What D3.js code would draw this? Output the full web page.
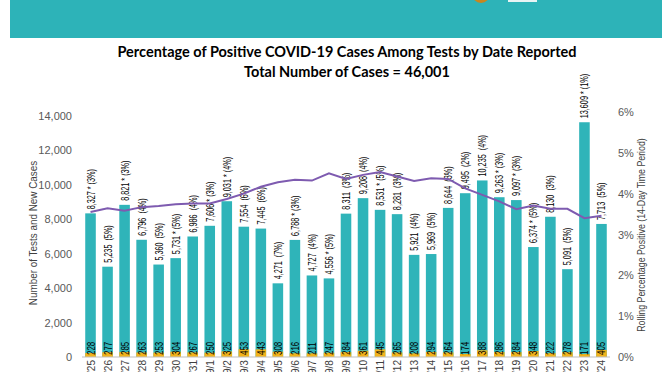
<!DOCTYPE html>
<html>
<head>
<meta charset="utf-8">
<script src="https://cdn.jsdelivr.net/npm/d3@7"></script>
<style>
  body { margin: 0; background: #fff; }
  svg { display: block; font-family: "Liberation Sans", Arial, sans-serif; }
</style>
</head>
<body>
<svg id="chart" width="672" height="372"></svg>
<script>
// data
var dates = ["8/25","8/26","8/27","8/28","8/29","8/30","8/31","9/1","9/2","9/3","9/4","9/5","9/6","9/7","9/8",
             "9/9","9/10","9/11","9/12","9/13","9/14","9/15","9/16","9/17","9/18","9/19","9/20","9/21","9/22","9/23","9/24"];
var tests = [8327,5235,8821,6796,5360,5731,6986,7606,9031,7554,7445,4271,6788,4727,4556,
             8311,9208,8531,8281,5921,5969,8644,9495,10235,9263,9097,6374,8130,5091,13609,7713];
var cases = [228,277,285,263,253,304,267,250,325,453,443,308,216,211,247,
             284,361,445,265,208,294,264,174,388,286,284,348,222,278,171,405];
var positive = [3,5,3,4,5,5,4,3,4,6,6,7,3,4,5,3,4,5,3,4,5,3,2,4,3,3,5,3,5,1,5];
var flagged = [1,0,1,0,0,1,0,1,1,0,0,0,1,0,1,0,0,1,0,0,0,0,0,0,1,1,1,0,0,1,0];
var rolling = [3.55,3.64,3.58,3.67,3.70,3.74,3.76,3.76,3.87,4.00,4.17,4.28,4.34,4.32,4.50,
               4.36,4.46,4.53,4.42,4.31,4.38,4.36,4.13,3.97,3.81,3.62,3.71,3.63,3.63,3.40,3.46];
var leftTicks = [0,2000,4000,6000,8000,10000,12000,14000];
var rightTicks = [0,0.01,0.02,0.03,0.04,0.05,0.06];

var svg = d3.select("#chart");
var teal = "#2FB4B9";

// header band
svg.append("rect").attr("x", 10).attr("y", 0).attr("width", 652).attr("height", 38).attr("fill", "#2DB3B8");
svg.append("circle").attr("cx", 481).attr("cy", -6).attr("r", 9).attr("fill", "#C8861E");
svg.append("rect").attr("x", 508).attr("y", -6).attr("width", 29).attr("height", 8).attr("fill", "#e8f4f4");

// titles
svg.append("text").attr("x", 347).attr("y", 57).attr("text-anchor", "middle")
   .style("font-family", "Lato").style("font-weight", "bold").style("font-size", "14.5px")
   .text("Percentage of Positive COVID-19 Cases Among Tests by Date Reported");
svg.append("text").attr("x", 347).attr("y", 77).attr("text-anchor", "middle")
   .style("font-family", "Lato").style("font-weight", "bold").style("font-size", "14.5px")
   .text("Total Number of Cases = 46,001");

var left = 82, right = 610, bottom = 357;

var x = d3.scaleBand().domain(dates).range([left, right]).paddingInner(0.38).paddingOuter(0.19);
var y = d3.scaleLinear().domain([0, 14000]).range([bottom, 115.5]);
var y2 = d3.scaleLinear().domain([0, 0.06]).range([bottom, 112]);

// bars
svg.selectAll("rect.bar").data(dates).enter().append("rect")
   .attr("class", "bar")
   .attr("x", d => x(d))
   .attr("width", x.bandwidth())
   .attr("y", (d, i) => y(tests[i]))
   .attr("height", (d, i) => bottom - y(tests[i]))
   .attr("fill", teal);

svg.selectAll("rect.cases").data(dates).enter().append("rect")
   .attr("class", "cases")
   .attr("x", d => x(d))
   .attr("width", x.bandwidth())
   .attr("y", (d, i) => y(cases[i]))
   .attr("height", (d, i) => bottom - y(cases[i]))
   .attr("fill", "#F2B31B");

// case counts inside bars
svg.selectAll("text.caselbl").data(dates).enter().append("text")
   .attr("class", "caselbl")
   .attr("transform", d => "translate(" + (x(d) + x.bandwidth() / 2 + 4) + "," + (bottom - 2) + ") rotate(-90) scale(0.72,1)")
   .style("font-size", "11px").attr("fill", "#000")
   .text((d, i) => cases[i]);

// total labels above bars
svg.selectAll("text.totlbl").data(dates).enter().append("text")
   .attr("class", "totlbl")
   .attr("transform", (d, i) => "translate(" + (x(d) + x.bandwidth() / 2 + 4) + "," + (y(tests[i]) - 4) + ") rotate(-90) scale(0.66,1)")
   .style("font-size", "11px").style("white-space", "pre").attr("fill", "#000")
   .text((d, i) => d3.format(",")(tests[i]) + (flagged[i] ? " * " : "  ") + "(" + positive[i] + "%)");

// rolling line
var line = d3.line().x((d, i) => x(dates[i]) + x.bandwidth() / 2).y(d => y2(d / 100));
svg.append("path").datum(rolling).attr("d", line)
   .attr("fill", "none").attr("stroke", "#7E5BB0").attr("stroke-width", 2);

// x axis (labels run off the bottom edge, as in the source)
var xAxis = svg.append("g").attr("transform", "translate(0," + bottom + ")")
   .call(d3.axisBottom(x).tickSize(0).tickPadding(0));
xAxis.select(".domain").attr("stroke", "#BFBFBF").attr("d", "M" + left + ",0H" + right);
xAxis.selectAll("text")
   .attr("transform", "translate(4,3) rotate(-90) scale(0.92,1)")
   .attr("x", 0).attr("y", 0).attr("dy", null)
   .style("text-anchor", "end").style("font-size", "11px").attr("fill", "#404040")
   .style("font-family", "Liberation Sans");

// left axis
var yAxis = svg.append("g").attr("transform", "translate(" + (left - 2) + ",0)")
   .call(d3.axisLeft(y).tickValues(leftTicks).tickFormat(d3.format(",")).tickSize(0).tickPadding(8));
yAxis.select(".domain").remove();
yAxis.selectAll("text").style("font-size", "11px").attr("fill", "#595959").style("font-family", "Liberation Sans");

// right axis
var y2Axis = svg.append("g").attr("transform", "translate(" + (right + 2) + ",0)")
   .call(d3.axisRight(y2).tickValues(rightTicks).tickFormat(d3.format(".0%")).tickSize(0).tickPadding(6));
y2Axis.select(".domain").remove();
y2Axis.selectAll("text").style("font-size", "11px").attr("fill", "#595959").style("font-family", "Liberation Sans");

// axis titles
svg.append("text").attr("transform", "translate(37,233) rotate(-90) scale(0.9,1)")
   .attr("text-anchor", "middle").style("font-size", "11px").attr("fill", "#404040")
   .text("Number of Tests and New Cases");
svg.append("text").attr("transform", "translate(645,235) rotate(-90) scale(0.8,1)")
   .attr("text-anchor", "middle").style("font-size", "11px").attr("fill", "#404040")
   .text("Rolling Percentage Positive (14-Day Time Period)");
</script>
</body>
</html>
